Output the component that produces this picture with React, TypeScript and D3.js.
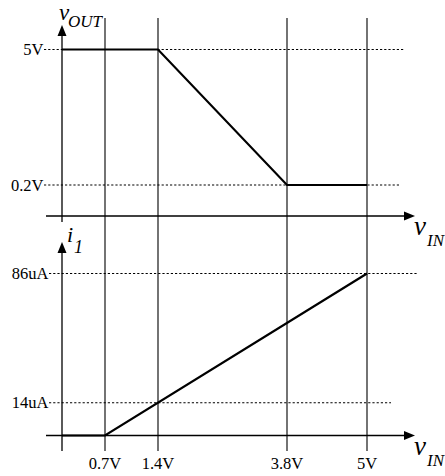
import React from "react";
import * as d3 from "d3";

// Data
const xBreaks = [0, 0.7, 1.4, 3.8, 5];
const xTicks = [0.7, 1.4, 3.8, 5];
const xTickLabels = ["0.7V", "1.4V", "3.8V", "5V"];

const voutX = [0, 1.4, 3.8, 5];
const voutY = [5, 5, 0.2, 0.2];
const voutTicks = [5, 0.2];
const voutTickLabels = ["5V", "0.2V"];

const i1X = [0, 0.7, 5];
const i1Y = [0, 0, 86];
const i1Ticks = [86, 14];
const i1TickLabels = ["86uA", "14uA"];

// Layout (schematic, non-linear axes)
const W = 445;
const H = 476;
const xScale = d3.scaleLinear().domain(xBreaks).range([62, 105, 158, 287, 367]);
const yTop = d3.scaleLinear().domain([0, 0.2, 5]).range([216, 185, 49.5]);
const yBot = d3.scaleLinear().domain([0, 14, 86]).range([435.5, 402.8, 273.5]);

const FONT = "'Liberation Serif', 'Times New Roman', Times, serif";
const axisLeft = 46;
const axisRight = 415;
const gridTop = 18;
const gridBottom = 451;
const topDotEnd = [404, 400];
const botDotEnd = [417, 391];
const TICK_FS = 16.5;

const T = (props: any) => (
  <text {...props} style={{ fontFamily: FONT, ...(props.style || {}) }} />
);

export default function App() {
  const voutLine = d3
    .line<number>()
    .x((_, i) => xScale(voutX[i]))
    .y((d) => yTop(d));
  const i1Line = d3
    .line<number>()
    .x((_, i) => xScale(i1X[i]))
    .y((d) => yBot(d));

  const x0 = xScale(0);
  const arrowUp = (tipY: number) =>
    `M${x0},${tipY} L${x0 - 4.5},${tipY + 11} L${x0 + 4.5},${tipY + 11} Z`;
  const arrowRight = (y: number) =>
    `M${axisRight},${y} L${axisRight - 11},${y - 4.5} L${axisRight - 11},${y + 4.5} Z`;

  return (
    <svg
      width={W}
      height={H}
      style={{ position: "absolute", left: 0, top: 0, background: "#fff" }}
    >
      <rect width={W} height={H} fill="#fff" />
      {/* vertical grid lines */}
      {xTicks.map((t) => (
        <line
          key={"g" + t}
          x1={xScale(t)}
          x2={xScale(t)}
          y1={gridTop}
          y2={gridBottom}
          stroke="#000"
          strokeWidth={1.1}
        />
      ))}
      {/* top y axis */}
      <line x1={x0} x2={x0} y1={30} y2={222} stroke="#000" strokeWidth={1.3} />
      <path d={arrowUp(25)} fill="#000" />
      {/* bottom y axis */}
      <line x1={x0} x2={x0} y1={248} y2={gridBottom} stroke="#000" strokeWidth={1.3} />
      <path d={arrowUp(242)} fill="#000" />
      {/* horizontal axes */}
      <line x1={axisLeft} x2={axisRight - 6} y1={yTop(0)} y2={yTop(0)} stroke="#000" strokeWidth={1.6} />
      <path d={arrowRight(yTop(0))} fill="#000" />
      <line x1={axisLeft} x2={axisRight - 6} y1={yBot(0)} y2={yBot(0)} stroke="#000" strokeWidth={1.6} />
      <path d={arrowRight(yBot(0))} fill="#000" />

      {/* dotted reference lines + labels */}
      {voutTicks.map((t, i) => (
        <g key={"vt" + t}>
          <line
            x1={44}
            x2={topDotEnd[i]}
            y1={yTop(t)}
            y2={yTop(t)}
            stroke="#000"
            strokeWidth={1.1}
            strokeDasharray="2.2,2"
          />
          <T x={43.5} y={yTop(t) + 5.5} textAnchor="end" fontSize={TICK_FS}>
            {voutTickLabels[i]}
          </T>
        </g>
      ))}
      {i1Ticks.map((t, i) => (
        <g key={"it" + t}>
          <line
            x1={49}
            x2={botDotEnd[i]}
            y1={yBot(t)}
            y2={yBot(t)}
            stroke="#000"
            strokeWidth={1.1}
            strokeDasharray="2.2,2"
          />
          <T x={48.5} y={yBot(t) + 5.5} textAnchor="end" fontSize={TICK_FS}>
            {i1TickLabels[i]}
          </T>
        </g>
      ))}

      {/* data lines */}
      <path d={voutLine(voutY) || ""} fill="none" stroke="#000" strokeWidth={2.2} />
      <path d={i1Line(i1Y) || ""} fill="none" stroke="#000" strokeWidth={2.2} />

      {/* x tick labels */}
      {xTicks.map((t, i) => (
        <T key={"xl" + t} x={xScale(t)} y={469} textAnchor="middle" fontSize={TICK_FS}>
          {xTickLabels[i]}
        </T>
      ))}

      {/* axis titles */}
      <T x={59} y={19.5} fontSize={23} fontStyle="italic">v</T>
      <T x={68} y={27} fontSize={17} fontStyle="italic">OUT</T>

      <T x={67} y={242} fontSize={22} fontStyle="italic">i</T>
      <T x={74} y={253} fontSize={18} fontStyle="italic">1</T>

      <T x={414} y={yTop(0) + 19} fontSize={27} fontStyle="italic">v</T>
      <T x={427} y={yTop(0) + 30} fontSize={17} fontStyle="italic">IN</T>

      <T x={414} y={yBot(0) + 19} fontSize={27} fontStyle="italic">v</T>
      <T x={427} y={yBot(0) + 30} fontSize={17} fontStyle="italic">IN</T>
    </svg>
  );
}
